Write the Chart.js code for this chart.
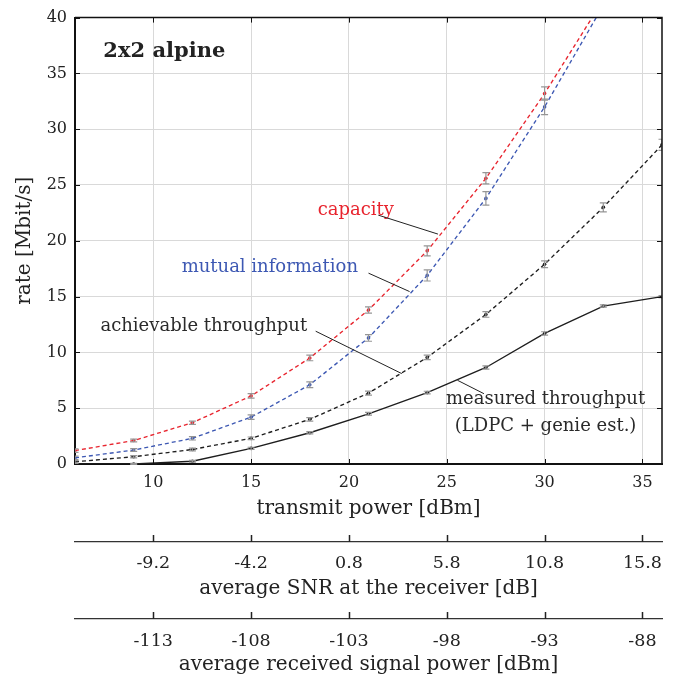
<!DOCTYPE html>
<html lang="en">
<head>
  <meta charset="UTF-8" />
  <title>2x2 alpine rate</title>
  <script src="https://cdn.jsdelivr.net/npm/chart.js"></script>
  <style>
    html, body { margin: 0; padding: 0; background: #fff; }
    #wrap { width: 677px; height: 677px; }
  </style>
</head>
<body>
  <div id="wrap"><canvas id="rateChart" width="677" height="677"></canvas></div>

  <script>
    // transmit power [dBm]
    const txPower = [6, 9, 12, 15, 18, 21, 24, 27, 30, 33, 36];

    // rate [Mbit/s] per curve, with half-width of the error bars
    const capacity       = [1.2, 2.1, 3.7, 6.1, 9.5, 13.8, 19.1, 25.6, 33.2, 41.6, 51.0];
    const capacityErr    = [0.15, 0.12, 0.15, 0.2, 0.25, 0.28, 0.45, 0.5, 0.6, 0, 0];
    const mutualInfo     = [0.55, 1.25, 2.3, 4.2, 7.1, 11.3, 16.9, 23.8, 32.0, 41.1, 50.0];
    const mutualInfoErr  = [0.15, 0.12, 0.15, 0.2, 0.25, 0.3, 0.5, 0.6, 0.7, 0, 0];
    const achievable     = [0.2, 0.65, 1.3, 2.3, 4.0, 6.35, 9.55, 13.4, 17.9, 23.0, 28.6];
    const achievableErr  = [0.1, 0.1, 0.12, 0.12, 0.15, 0.18, 0.2, 0.25, 0.3, 0.4, 0.5];
    const measured       = [0.0, 0.0, 0.25, 1.4, 2.8, 4.5, 6.4, 8.65, 11.7, 14.15, 15.0];
    const measuredErr    = [0.05, 0.05, 0.08, 0.1, 0.1, 0.12, 0.12, 0.15, 0.15, 0.1, 0.1];

    // tick labels
    const txTicks  = [10, 15, 20, 25, 30, 35];
    const snrTicks = ["-9.2", "-4.2", "0.8", "5.8", "10.8", "15.8"];
    const rxTicks  = ["-113", "-108", "-103", "-98", "-93", "-88"];

    const serif = "'DejaVu Serif', serif";
    const RED = "#e8242e";
    const BLUE = "#3d58b3";
    const BLACK = "#1e1e1e";

    function pts(ys) {
      return txPower.map((x, i) => ({ x: x, y: ys[i] }));
    }

    function series(label, ys, errs, color, dash) {
      return {
        label: label,
        data: pts(ys),
        errs: errs,
        borderColor: color,
        borderWidth: 1.35,
        borderDash: dash,
        pointRadius: 1.8,
        pointBackgroundColor: color,
        pointBorderWidth: 0,
        tension: 0
      };
    }

    const setTicks = (s) => { s.ticks = txTicks.map(v => ({ value: v })); };

    // error bars, frame, inward ticks and text notes
    const decor = {
      id: "decor",
      afterDatasetsDraw(chart) {
        const { ctx, chartArea: a, scales } = chart;
        const x = scales.x, y = scales.y;

        // error bars
        ctx.save();
        ctx.beginPath();
        ctx.rect(a.left, a.top - 1, a.right - a.left, a.bottom - a.top + 2);
        ctx.clip();
        ctx.strokeStyle = "#959595";
        ctx.lineWidth = 1.2;
        chart.data.datasets.forEach(ds => {
          ds.data.forEach((p, i) => {
            const e = ds.errs[i];
            if (!e || p.y > 40) return;
            const px = x.getPixelForValue(p.x);
            const y1 = y.getPixelForValue(p.y - e);
            const y2 = y.getPixelForValue(p.y + e);
            ctx.beginPath();
            ctx.moveTo(px, y1); ctx.lineTo(px, y2);
            ctx.moveTo(px - 3.5, y1); ctx.lineTo(px + 3.5, y1);
            ctx.moveTo(px - 3.5, y2); ctx.lineTo(px + 3.5, y2);
            ctx.stroke();
          });
        });
        ctx.restore();

        ctx.save();
        // top and right frame
        ctx.strokeStyle = "#111";
        ctx.lineWidth = 1.5;
        ctx.beginPath();
        ctx.moveTo(a.left, a.top); ctx.lineTo(a.right, a.top); ctx.lineTo(a.right, a.bottom);
        ctx.stroke();

        // inward ticks on all four sides
        ctx.lineWidth = 1;
        ctx.beginPath();
        txTicks.forEach(v => {
          const px = Math.round(x.getPixelForValue(v)) + 0.5;
          ctx.moveTo(px, a.bottom); ctx.lineTo(px, a.bottom - 5);
          ctx.moveTo(px, a.top); ctx.lineTo(px, a.top + 5);
        });
        y.ticks.forEach(t => {
          const py = Math.round(y.getPixelForValue(t.value)) + 0.5;
          ctx.moveTo(a.left, py); ctx.lineTo(a.left + 5, py);
          ctx.moveTo(a.right, py); ctx.lineTo(a.right - 5, py);
        });
        ctx.stroke();

        // notes in data coordinates
        const X = v => x.getPixelForValue(v);
        const Y = v => y.getPixelForValue(v);
        ctx.textBaseline = "middle";
        ctx.textAlign = "left";

        ctx.font = "bold 21px " + serif;
        ctx.fillStyle = "#222";
        ctx.fillText("2x2 alpine", X(7.45), Y(37.0));

        ctx.font = "18px " + serif;
        ctx.fillStyle = RED;
        ctx.fillText("capacity", X(18.4), Y(22.75));
        ctx.fillStyle = BLUE;
        ctx.fillText("mutual information", X(11.45), Y(17.65));
        ctx.fillStyle = "#2a2a2a";
        ctx.fillText("achievable throughput", X(7.3), Y(12.3));
        ctx.textAlign = "center";
        ctx.fillText("measured throughput", X(30.05), Y(5.8));
        ctx.fillText("(LDPC + genie est.)", X(30.05), Y(3.35));

        ctx.strokeStyle = "#222";
        ctx.lineWidth = 1;
        const leaders = [
          [21.5, 22.3, 24.55, 20.6],
          [21.0, 17.1, 23.1, 15.45],
          [18.3, 11.9, 22.7, 8.1],
          [25.55, 7.5, 26.9, 6.3]
        ];
        ctx.beginPath();
        leaders.forEach(l => {
          ctx.moveTo(X(l[0]), Y(l[1]));
          ctx.lineTo(X(l[2]), Y(l[3]));
        });
        ctx.stroke();
        ctx.restore();
      },
      afterDraw(chart) {
        // upward ticks on the two lower axes
        const { ctx, scales } = chart;
        ctx.save();
        ctx.strokeStyle = "#222";
        ctx.lineWidth = 1.5;
        ctx.beginPath();
        [scales.x2, scales.x3].forEach(s => {
          const base = Math.round(s.top);
          txTicks.forEach(v => {
            const px = Math.round(s.getPixelForValue(v)) + 0.5;
            ctx.moveTo(px, base);
            ctx.lineTo(px, base - 7);
          });
        });
        ctx.stroke();
        ctx.restore();
      }
    };

    const tickFont = { family: serif, size: 16 };
    const tickFont2 = { family: serif, size: 17.5 };
    const titleFont = { family: serif, size: 20 };

    new Chart(document.getElementById("rateChart"), {
      type: "line",
      data: {
        datasets: [
          series("capacity", capacity, capacityErr, RED, [4, 3]),
          series("mutual information", mutualInfo, mutualInfoErr, BLUE, [4, 3]),
          series("achievable throughput", achievable, achievableErr, BLACK, [4, 3]),
          series("measured throughput", measured, measuredErr, BLACK, [])
        ]
      },
      options: {
        responsive: false,
        animation: false,
        devicePixelRatio: 1,
        layout: { padding: { top: 15, right: 15, bottom: 0, left: 0 } },
        plugins: { legend: { display: false }, tooltip: { enabled: false } },
        scales: {
          x: {
            type: "linear", position: "bottom", min: 6, max: 36,
            afterBuildTicks: setTicks,
            afterFit: s => { s.height = 78; },
            grid: { color: "#d9d9d9", lineWidth: 1, drawTicks: false },
            border: { color: "#111", width: 2 },
            ticks: { font: tickFont, color: "#222", padding: 9 },
            title: { display: true, text: "transmit power [dBm]", font: titleFont, color: "#222", padding: { top: 0, bottom: 21 } }
          },
          x2: {
            type: "linear", position: "bottom", min: 6, max: 36,
            afterBuildTicks: setTicks,
            afterFit: s => { s.height = 77; },
            grid: { display: false, drawTicks: false },
            border: { color: "#333", width: 1.3 },
            ticks: { font: tickFont2, color: "#222", padding: 11, callback: (v, i) => snrTicks[i] },
            title: { display: true, text: "average SNR at the receiver [dB]", font: titleFont, color: "#222", padding: { top: 0, bottom: 18 } }
          },
          x3: {
            type: "linear", position: "bottom", min: 6, max: 36,
            afterBuildTicks: setTicks,
            afterFit: s => { s.height = 58; },
            grid: { display: false, drawTicks: false },
            border: { color: "#333", width: 1.3 },
            ticks: { font: tickFont2, color: "#222", padding: 12, callback: (v, i) => rxTicks[i] },
            title: { display: true, text: "average received signal power [dBm]", font: titleFont, color: "#222", padding: { top: 0, bottom: 0 } }
          },
          y: {
            min: 0, max: 40,
            afterFit: s => { s.width = 75; },
            grid: { color: "#d9d9d9", lineWidth: 1, drawTicks: false },
            border: { color: "#111", width: 2 },
            ticks: { stepSize: 5, font: tickFont, color: "#222", padding: 8 },
            title: { display: true, text: "rate [Mbit/s]", font: titleFont, color: "#222", padding: { top: 13, bottom: 0 } }
          }
        }
      },
      plugins: [decor]
    });
  </script>
</body>
</html>
